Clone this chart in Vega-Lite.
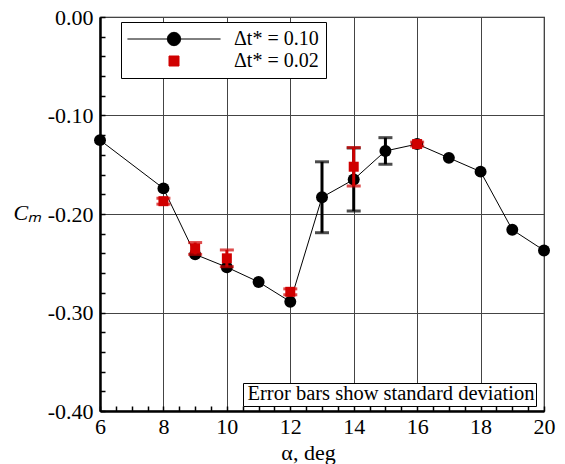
{
  "$schema": "https://vega.github.io/schema/vega-lite/v6.json",
  "width": 444,
  "height": 394,
  "autosize": {"type": "none"},
  "padding": {"left": 100, "top": 17, "right": 21, "bottom": 53},
  "background": "white",
  "config": {
    "view": {"stroke": "#222222", "strokeWidth": 1.2}
  },
  "datasets": {
    "cm": [
      {"a": 6, "cm": -0.125, "series": "Δt* = 0.10"},
      {"a": 8, "cm": -0.174, "series": "Δt* = 0.10"},
      {"a": 9, "cm": -0.241, "series": "Δt* = 0.10"},
      {"a": 10, "cm": -0.254, "series": "Δt* = 0.10"},
      {"a": 11, "cm": -0.269, "series": "Δt* = 0.10"},
      {"a": 12, "cm": -0.289, "series": "Δt* = 0.10"},
      {"a": 13, "cm": -0.183, "sd": 0.036, "series": "Δt* = 0.10"},
      {"a": 14, "cm": -0.165, "sd": 0.032, "series": "Δt* = 0.10"},
      {"a": 15, "cm": -0.136, "sd": 0.0135, "series": "Δt* = 0.10"},
      {"a": 16, "cm": -0.129, "series": "Δt* = 0.10"},
      {"a": 17, "cm": -0.143, "series": "Δt* = 0.10"},
      {"a": 18, "cm": -0.157, "series": "Δt* = 0.10"},
      {"a": 19, "cm": -0.216, "series": "Δt* = 0.10"},
      {"a": 20, "cm": -0.237, "series": "Δt* = 0.10"},
      {"a": 8, "cm": -0.187, "sd": 0.003, "series": "Δt* = 0.02"},
      {"a": 9, "cm": -0.235, "sd": 0.006, "series": "Δt* = 0.02"},
      {"a": 10, "cm": -0.245, "sd": 0.0085, "series": "Δt* = 0.02"},
      {"a": 12, "cm": -0.279, "sd": 0.003, "series": "Δt* = 0.02"},
      {"a": 14, "cm": -0.152, "sd": 0.0195, "series": "Δt* = 0.02"},
      {"a": 16, "cm": -0.129, "sd": 0.002, "series": "Δt* = 0.02"}
    ]
  },
  "data": {"name": "cm"},
  "encoding": {
    "x": {
      "field": "a",
      "type": "quantitative",
      "scale": {"domain": [6, 20], "nice": false},
      "axis": {
        "title": "α, deg",
        "values": [6, 6.5, 7, 7.5, 8, 8.5, 9, 9.5, 10, 10.5, 11, 11.5, 12, 12.5, 13, 13.5, 14, 14.5, 15, 15.5, 16, 16.5, 17, 17.5, 18, 18.5, 19, 19.5, 20],
        "labelExpr": "datum.value % 2 == 0 ? format(datum.value, 'd') : ''",
        "labelFont": "Liberation Serif",
        "labelFontSize": 22,
        "labelColor": "black",
        "labelFlush": false,
        "labelOverlap": false,
        "labelPadding": 10,
        "titleFont": "Liberation Serif",
        "titleFontSize": 22,
        "titleFontWeight": "normal",
        "titleColor": "black",
        "domainColor": "black",
        "domainWidth": 2.5,
        "tickColor": "black",
        "tickWidth": 1.5,
        "tickSize": -5,
        "gridColor": "#444444",
        "gridWidth": 1,
        "gridOpacity": {"condition": {"test": "datum.value % 2 == 0", "value": 1}, "value": 0},
        "titleX": 208,
        "titleY": 48,
        "titleAlign": "center",
        "titleBaseline": "alphabetic"
      }
    },
    "y": {
      "field": "cm",
      "type": "quantitative",
      "scale": {"domain": [-0.4, 0], "nice": false, "zero": false},
      "axis": {
        "title": "Cₘ",
        "values": [-0.4, -0.38, -0.36, -0.34, -0.32, -0.3, -0.28, -0.26, -0.24, -0.22, -0.2, -0.18, -0.16, -0.14, -0.12, -0.1, -0.08, -0.06, -0.04, -0.02, 0],
        "labelExpr": "datum.value == 0 ? '0.00' : datum.value == -0.1 ? '-0.10' : datum.value == -0.2 ? '-0.20' : datum.value == -0.3 ? '-0.30' : datum.value == -0.4 ? '-0.40' : ''",
        "labelFont": "Liberation Serif",
        "labelFontSize": 22,
        "labelColor": "black",
        "labelFlush": false,
        "labelOverlap": false,
        "labelPadding": 12,
        "titleFont": "Liberation Serif",
        "titleFontSize": 22,
        "titleFontWeight": "normal",
        "titleFontStyle": "italic",
        "titleColor": "black",
        "domainColor": "black",
        "domainWidth": 2.5,
        "tickColor": "black",
        "tickWidth": 1.5,
        "tickSize": -5,
        "gridColor": "#444444",
        "gridWidth": 1,
        "gridOpacity": {"condition": {"test": "datum.value == 0 || datum.value == -0.1 || datum.value == -0.2 || datum.value == -0.3 || datum.value == -0.4", "value": 1}, "value": 0},
        "titleAngle": 0,
        "titleX": -87,
        "titleY": 195,
        "titleAlign": "left",
        "titleBaseline": "middle"
      }
    }
  },
  "layer": [
    {
      "transform": [{"filter": "datum.series == 'Δt* = 0.10'"}],
      "mark": {"type": "line", "color": "black", "strokeWidth": 1},
      "encoding": {}
    },
    {
      "transform": [{"filter": "datum.series == 'Δt* = 0.10' && isValid(datum.sd)"}],
      "mark": {"type": "errorbar", "ticks": true, "size": 14, "thickness": 3, "color": "black"},
      "encoding": {
        "yError": {"field": "sd"}
      }
    },
    {
      "transform": [{"filter": "datum.series == 'Δt* = 0.10'"}],
      "mark": {"type": "point", "filled": true, "shape": "circle", "size": 143, "color": "black", "opacity": 1}
    },
    {
      "transform": [{"filter": "datum.series == 'Δt* = 0.02'"}],
      "mark": {"type": "errorbar", "ticks": true, "size": 14, "thickness": 3, "color": "#d00000"},
      "encoding": {
        "yError": {"field": "sd"}
      }
    },
    {
      "transform": [{"filter": "datum.series == 'Δt* = 0.02'"}],
      "mark": {"type": "point", "filled": true, "shape": "square", "size": 100, "color": "#d00000", "opacity": 1}
    },
    {
      "transform": [{"filter": "false"}],
      "mark": {"type": "point", "filled": true, "opacity": 1},
      "encoding": {
        "color": {
          "field": "series",
          "type": "nominal",
          "scale": {"domain": ["Δt* = 0.10", "Δt* = 0.02"], "range": ["black", "#d00000"]},
          "legend": {
            "title": null,
            "orient": "none",
            "legendX": 21,
            "legendY": 5,
            "padding": 7,
            "strokeColor": "black",
            "fillColor": "white",
            "labelFont": "Liberation Serif",
            "labelFontSize": 20,
            "labelColor": "black",
            "symbolOffset": 36,
            "labelOffset": 50,
            "rowPadding": 2,
            "symbolStrokeWidth": 1,
            "labelLimit": 300
          }
        },
        "stroke": {
          "field": "series",
          "type": "nominal",
          "scale": {"domain": ["Δt* = 0.10", "Δt* = 0.02"], "range": ["black", "#d00000"]}
        },
        "shape": {
          "field": "series",
          "type": "nominal",
          "scale": {"domain": ["Δt* = 0.10", "Δt* = 0.02"], "range": ["M-1,0A1,1,0,1,1,1,0A1,1,0,1,1,-1,0Z M-7,0L-1,0M1,0L7,0", "square"]}
        },
        "size": {
          "field": "series",
          "type": "nominal",
          "scale": {"domain": ["Δt* = 0.10", "Δt* = 0.02"], "range": [177, 100]}
        }
      }
    },
    {
      "transform": [{"filter": "false"}],
      "mark": {"type": "point", "filled": true, "opacity": 1},
      "encoding": {
        "strokeDash": {
          "datum": "Error bars show standard deviation",
          "type": "nominal",
          "scale": {"domain": ["Error bars show standard deviation"]},
          "legend": {
            "title": null,
            "orient": "none",
            "legendX": 143,
            "legendY": 366,
            "padding": 1,
            "strokeColor": "black",
            "fillColor": "white",
            "labelFont": "Liberation Serif",
            "labelFontSize": 20.5,
            "labelColor": "black",
            "symbolSize": 0,
            "symbolOpacity": 0,
            "symbolStrokeWidth": 0,
            "symbolOffset": 0,
            "labelOffset": -17,
            "labelLimit": 400
          }
        }
      }
    }
  ]
}
